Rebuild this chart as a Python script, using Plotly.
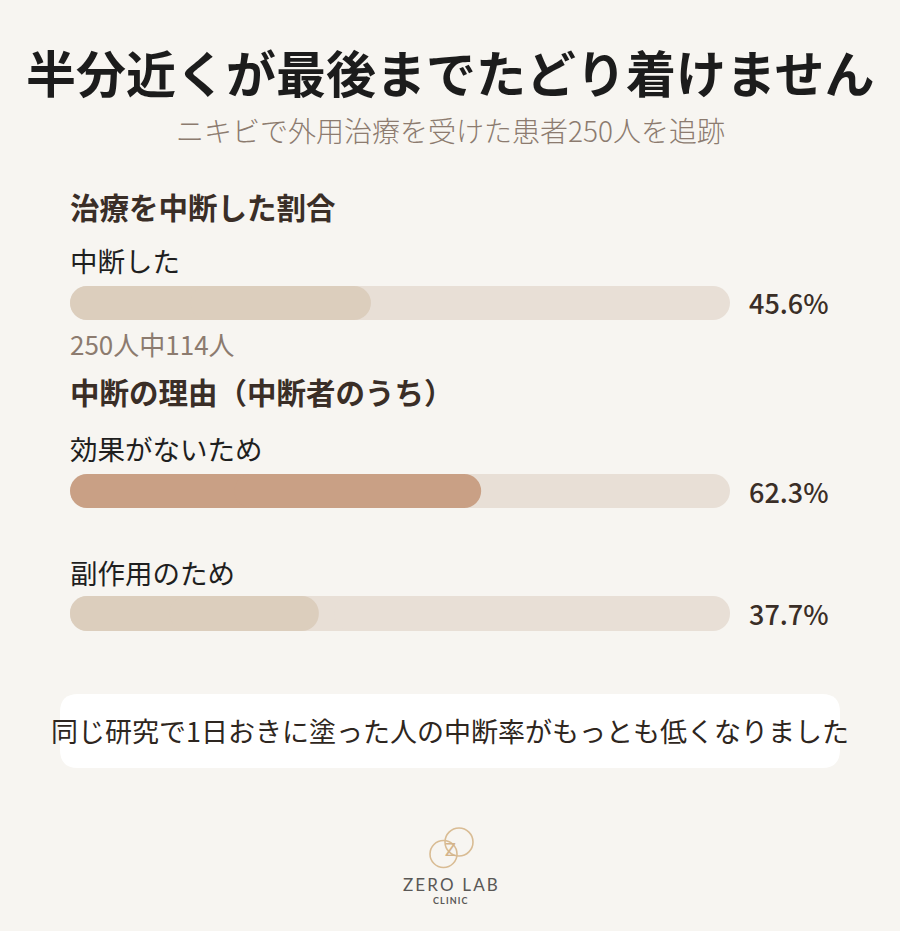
import plotly.graph_objects as go

W, H = 900, 931

title = "半分近くが最後までたどり着けません"
subtitle = "ニキビで外用治療を受けた患者250人を追跡"
section_titles = ["治療を中断した割合", "中断の理由（中断者のうち）"]
bar_labels = ["中断した", "効果がないため", "副作用のため"]
bar_values = [45.6, 62.3, 37.7]
bar_colors = ["#DCCEBD", "#C9A085", "#DCCEBD"]
track_max = 100
note_text = "250人中114人"
footer_text = "同じ研究で1日おきに塗った人の中断率がもっとも低くなりました"
brand = "ZERO LAB"
brand_sub = "CLINIC"

FONT = "Noto Sans CJK JP"
BG = "#F7F5F1"
TRACK = "#E8DFD6"
DARK = "#3A2E27"
MUTED = "#8C7B6F"


def px(x):
    return x / W


def py(y):
    return 1 - y / H


# bar rows (pixel extents of each bar row)
rows = [(286, 320), (474, 508), (596, 631)]
x_dom = [px(70), px(730)]

fig = go.Figure()
layout_axes = {}
annotations = []

for i, (val, col, (top, bot)) in enumerate(zip(bar_values, bar_colors, rows)):
    yname = "y" if i == 0 else f"y{i+1}"
    ykey = "yaxis" if i == 0 else f"yaxis{i+1}"
    layout_axes[ykey] = dict(domain=[py(bot), py(top)], range=[-0.5, 0.5],
                             visible=False, fixedrange=True, anchor="x")
    # track (two overlapping halves so both ends get rounded)
    for v, c in ((track_max, TRACK), (val, col)):
        fig.add_trace(go.Bar(x=[-0.6 * v], base=[0.6 * v], y=[0], orientation="h",
                             width=1, marker=dict(color=c, line=dict(width=0)),
                             yaxis=yname, xaxis="x", hoverinfo="skip", showlegend=False))
        fig.add_trace(go.Bar(x=[0.6 * v], base=[0.4 * v], y=[0], orientation="h",
                             width=1, marker=dict(color=c, line=dict(width=0)),
                             yaxis=yname, xaxis="x", hoverinfo="skip", showlegend=False))
    annotations.append(dict(x=track_max, y=0, xref="x", yref=yname, xanchor="left",
                            xshift=17, yanchor="middle", showarrow=False,
                            text=f"{val}%", font=dict(family=FONT, size=27, color=DARK, weight=500)))


def label(text, x, y, size, color, weight=400, xanchor="left", family=FONT):
    annotations.append(dict(x=px(x), y=py(y), xref="paper", yref="paper", xanchor=xanchor,
                            yanchor="middle", showarrow=False, text=text,
                            font=dict(family=family, size=size, color=color, weight=weight)))


label(title, 450, 71, 50, "#1C1C1C", 700, "center")
label(subtitle, 450, 130, 28, MUTED, 300, "center")
label(section_titles[0], 68, 206, 29.5, DARK, 700)
label(bar_labels[0], 68, 260, 27.5, "#1F1F1F")
label(note_text, 68, 343, 26, MUTED)
label(section_titles[1], 68, 391, 29.5, DARK, 700)
label(bar_labels[1], 68, 448, 27.5, "#1F1F1F")
label(bar_labels[2], 68, 572, 27.5, "#1F1F1F")
label(footer_text, 450, 730, 27, "#2E2620", 400, "center")

# logo text
label("Z", 451, 849, 18, "#D4B48A", 400, "center", "Lato")
label("\u2009".join(list(brand)), 450, 884, 17, "#5A5856", 400, "center", "Lato")
label("\u2009".join(list(brand_sub)), 450, 900, 9, "#5A5856", 700, "center", "Lato")

# rounded white box
x0, x1, y0, y1 = px(60), px(840), py(694), py(768)
rx, ry = 18 / W, 18 / H
box_path = (f"M {x0+rx},{y0} L {x1-rx},{y0} Q {x1},{y0} {x1},{y0-ry} "
            f"L {x1},{y1+ry} Q {x1},{y1} {x1-rx},{y1} L {x0+rx},{y1} "
            f"Q {x0},{y1} {x0},{y1+ry} L {x0},{y0-ry} Q {x0},{y0} {x0+rx},{y0} Z")
shapes = [dict(type="path", xref="paper", yref="paper", path=box_path,
               fillcolor="#FFFFFF", line=dict(width=0), layer="below")]
for (cx, cy, r) in ((459, 842, 14), (443.5, 854, 13.5)):
    shapes.append(dict(type="circle", xref="paper", yref="paper",
                       x0=px(cx - r), x1=px(cx + r), y0=py(cy + r), y1=py(cy - r),
                       line=dict(color="#D9BC94", width=1.6), layer="below"))

fig.update_layout(
    width=W, height=H, margin=dict(l=0, r=0, t=0, b=0),
    paper_bgcolor=BG, plot_bgcolor="rgba(0,0,0,0)",
    barmode="overlay", barcornerradius=17, showlegend=False,
    xaxis=dict(domain=x_dom, range=[0, track_max], visible=False, fixedrange=True),
    annotations=annotations, shapes=shapes,
    **layout_axes,
)

fig.write_html("out.html", config={"displayModeBar": False, "staticPlot": True},
               post_script="document.body.style.margin='0';document.body.style.overflow='hidden';")
